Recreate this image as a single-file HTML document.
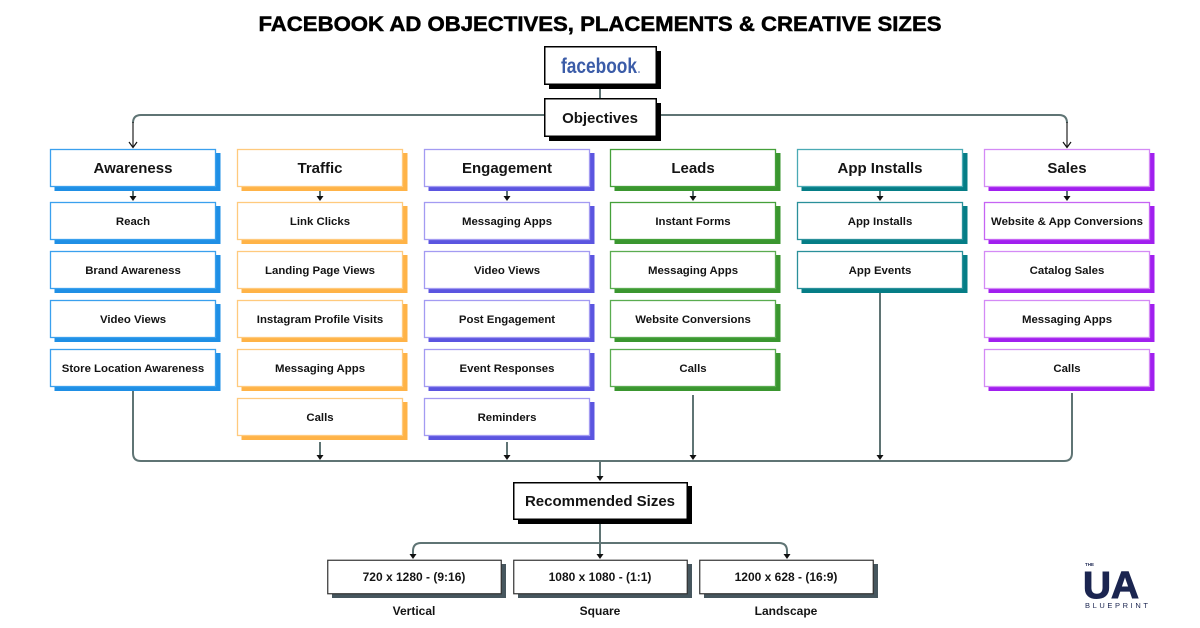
<!DOCTYPE html>
<html><head><meta charset="utf-8"><style>
html,body{margin:0;padding:0;background:#fff;}
svg{display:block;}
text{font-family:"Liberation Sans",Arial,sans-serif;font-weight:bold;fill:#141414;}
.h{font-size:15px;text-anchor:middle;}
.s{font-size:11.4px;text-anchor:middle;}
.ln{stroke:#5f7474;stroke-width:2;fill:none;}
</style></head><body>
<svg width="1200" height="628" viewBox="0 0 1200 628" xmlns="http://www.w3.org/2000/svg">
<rect width="1200" height="628" fill="#fff"/>
<text x="600" y="31" font-size="21" text-anchor="middle" textLength="683" lengthAdjust="spacingAndGlyphs" style="fill:#000;stroke:#000;stroke-width:0.5">FACEBOOK AD OBJECTIVES, PLACEMENTS &amp; CREATIVE SIZES</text>

<!-- connectors top -->
<line class="ln" x1="600" y1="86" x2="600" y2="98"/>
<path class="ln" d="M545 115 H141 Q133 115 133 123"/>
<path class="ln" d="M655 115 H1059 Q1067 115 1067 123"/>
<line x1="133" y1="122" x2="133" y2="147" stroke="#222" stroke-width="1.2"/>
<line x1="1067" y1="122" x2="1067" y2="147" stroke="#222" stroke-width="1.2"/>
<path d="M129 142 L133 147.5 L137 142" stroke="#111" stroke-width="1.2" fill="none"/>
<path d="M1063 142 L1067 147.5 L1071 142" stroke="#111" stroke-width="1.2" fill="none"/>

<!-- facebook box -->
<rect x="549" y="51" width="112" height="38" fill="#000"/>
<rect x="544.75" y="46.75" width="111.5" height="37.5" fill="#fff" stroke="#000" stroke-width="1.5"/>
<text x="599" y="73" font-size="21" text-anchor="middle" textLength="76" lengthAdjust="spacingAndGlyphs" style="fill:#3b5ca8">facebook</text>
<circle cx="639" cy="72" r="0.8" fill="#3b5ca8"/>

<!-- objectives box -->
<rect x="549" y="103" width="112" height="38" fill="#000"/>
<rect x="544.75" y="98.75" width="111.5" height="37.5" fill="#fff" stroke="#000" stroke-width="1.5"/>
<text class="h" x="600" y="123">Objectives</text>

<!-- bottom connectors -->
<path class="ln" d="M133 391 V453 Q133 461 141 461 H1064 Q1072 461 1072 453 V393"/>
<line class="ln" x1="320" y1="442" x2="320" y2="456"/>
<line class="ln" x1="507" y1="442" x2="507" y2="456"/>
<line class="ln" x1="693" y1="395" x2="693" y2="456"/>
<line class="ln" x1="880" y1="293" x2="880" y2="456"/>
<path d="M316.5 455 L323.5 455 L320 460 Z" fill="#111"/>
<path d="M503.5 455 L510.5 455 L507 460 Z" fill="#111"/>
<path d="M689.5 455 L696.5 455 L693 460 Z" fill="#111"/>
<path d="M876.5 455 L883.5 455 L880 460 Z" fill="#111"/>
<line class="ln" x1="600" y1="461" x2="600" y2="477"/>
<path d="M596.5 476 L603.5 476 L600 481 Z" fill="#111"/>

<!-- header->sub arrows -->
<g>
<line class="ln" x1="133" y1="190" x2="133" y2="197"/><path d="M129.5 196 L136.5 196 L133 201 Z" fill="#111"/>
<line class="ln" x1="320" y1="190" x2="320" y2="197"/><path d="M316.5 196 L323.5 196 L320 201 Z" fill="#111"/>
<line class="ln" x1="507" y1="190" x2="507" y2="197"/><path d="M503.5 196 L510.5 196 L507 201 Z" fill="#111"/>
<line class="ln" x1="693" y1="190" x2="693" y2="197"/><path d="M689.5 196 L696.5 196 L693 201 Z" fill="#111"/>
<line class="ln" x1="880" y1="190" x2="880" y2="197"/><path d="M876.5 196 L883.5 196 L880 201 Z" fill="#111"/>
<line class="ln" x1="1067" y1="190" x2="1067" y2="197"/><path d="M1063.5 196 L1070.5 196 L1067 201 Z" fill="#111"/>
</g>

<!-- Awareness column -->
<g>
<rect x="54.5" y="153" width="166" height="38" fill="#1f8fe5"/>
<rect x="50.5" y="149.5" width="165" height="37" fill="#fff" stroke="#3aa0ee" stroke-width="1.3"/>
<text class="h" x="133" y="173">Awareness</text>
<rect x="54.5" y="206" width="166" height="38" fill="#1f8fe5"/>
<rect x="50.5" y="202.5" width="165" height="37" fill="#fff" stroke="#3aa0ee" stroke-width="1.3"/>
<text class="s" x="133" y="225">Reach</text>
<rect x="54.5" y="255" width="166" height="38" fill="#1f8fe5"/>
<rect x="50.5" y="251.5" width="165" height="37" fill="#fff" stroke="#3aa0ee" stroke-width="1.3"/>
<text class="s" x="133" y="274">Brand Awareness</text>
<rect x="54.5" y="304" width="166" height="38" fill="#1f8fe5"/>
<rect x="50.5" y="300.5" width="165" height="37" fill="#fff" stroke="#3aa0ee" stroke-width="1.3"/>
<text class="s" x="133" y="323">Video Views</text>
<rect x="54.5" y="353" width="166" height="38" fill="#1f8fe5"/>
<rect x="50.5" y="349.5" width="165" height="37" fill="#fff" stroke="#3aa0ee" stroke-width="1.3"/>
<text class="s" x="133" y="372">Store Location Awareness</text>
</g>

<!-- Traffic column -->
<g>
<rect x="241.5" y="153" width="166" height="38" fill="#ffb347"/>
<rect x="237.5" y="149.5" width="165" height="37" fill="#fff" stroke="#ffca7d" stroke-width="1.3"/>
<text class="h" x="320" y="173">Traffic</text>
<rect x="241.5" y="206" width="166" height="38" fill="#ffb347"/>
<rect x="237.5" y="202.5" width="165" height="37" fill="#fff" stroke="#ffca7d" stroke-width="1.3"/>
<text class="s" x="320" y="225">Link Clicks</text>
<rect x="241.5" y="255" width="166" height="38" fill="#ffb347"/>
<rect x="237.5" y="251.5" width="165" height="37" fill="#fff" stroke="#ffca7d" stroke-width="1.3"/>
<text class="s" x="320" y="274">Landing Page Views</text>
<rect x="241.5" y="304" width="166" height="38" fill="#ffb347"/>
<rect x="237.5" y="300.5" width="165" height="37" fill="#fff" stroke="#ffca7d" stroke-width="1.3"/>
<text class="s" x="320" y="323">Instagram Profile Visits</text>
<rect x="241.5" y="353" width="166" height="38" fill="#ffb347"/>
<rect x="237.5" y="349.5" width="165" height="37" fill="#fff" stroke="#ffca7d" stroke-width="1.3"/>
<text class="s" x="320" y="372">Messaging Apps</text>
<rect x="241.5" y="402" width="166" height="38" fill="#ffb347"/>
<rect x="237.5" y="398.5" width="165" height="37" fill="#fff" stroke="#ffca7d" stroke-width="1.3"/>
<text class="s" x="320" y="421">Calls</text>
</g>

<!-- Engagement column -->
<g>
<rect x="428.5" y="153" width="166" height="38" fill="#5b55e0"/>
<rect x="424.5" y="149.5" width="165" height="37" fill="#fff" stroke="#a39bf2" stroke-width="1.3"/>
<text class="h" x="507" y="173">Engagement</text>
<rect x="428.5" y="206" width="166" height="38" fill="#5b55e0"/>
<rect x="424.5" y="202.5" width="165" height="37" fill="#fff" stroke="#a39bf2" stroke-width="1.3"/>
<text class="s" x="507" y="225">Messaging Apps</text>
<rect x="428.5" y="255" width="166" height="38" fill="#5b55e0"/>
<rect x="424.5" y="251.5" width="165" height="37" fill="#fff" stroke="#a39bf2" stroke-width="1.3"/>
<text class="s" x="507" y="274">Video Views</text>
<rect x="428.5" y="304" width="166" height="38" fill="#5b55e0"/>
<rect x="424.5" y="300.5" width="165" height="37" fill="#fff" stroke="#a39bf2" stroke-width="1.3"/>
<text class="s" x="507" y="323">Post Engagement</text>
<rect x="428.5" y="353" width="166" height="38" fill="#5b55e0"/>
<rect x="424.5" y="349.5" width="165" height="37" fill="#fff" stroke="#a39bf2" stroke-width="1.3"/>
<text class="s" x="507" y="372">Event Responses</text>
<rect x="428.5" y="402" width="166" height="38" fill="#5b55e0"/>
<rect x="424.5" y="398.5" width="165" height="37" fill="#fff" stroke="#a39bf2" stroke-width="1.3"/>
<text class="s" x="507" y="421">Reminders</text>
</g>

<!-- Leads column -->
<g>
<rect x="614.5" y="153" width="166" height="38" fill="#3a962f"/>
<rect x="610.5" y="149.5" width="165" height="37" fill="#fff" stroke="#45a03a" stroke-width="1.3"/>
<text class="h" x="693" y="173">Leads</text>
<rect x="614.5" y="206" width="166" height="38" fill="#3a962f"/>
<rect x="610.5" y="202.5" width="165" height="37" fill="#fff" stroke="#45a03a" stroke-width="1.3"/>
<text class="s" x="693" y="225">Instant Forms</text>
<rect x="614.5" y="255" width="166" height="38" fill="#3a962f"/>
<rect x="610.5" y="251.5" width="165" height="37" fill="#fff" stroke="#5aac50" stroke-width="1.3"/>
<text class="s" x="693" y="274">Messaging Apps</text>
<rect x="614.5" y="304" width="166" height="38" fill="#3a962f"/>
<rect x="610.5" y="300.5" width="165" height="37" fill="#fff" stroke="#5aac50" stroke-width="1.3"/>
<text class="s" x="693" y="323">Website Conversions</text>
<rect x="614.5" y="353" width="166" height="38" fill="#3a962f"/>
<rect x="610.5" y="349.5" width="165" height="37" fill="#fff" stroke="#5aac50" stroke-width="1.3"/>
<text class="s" x="693" y="372">Calls</text>
</g>

<!-- App Installs column -->
<g>
<rect x="801.5" y="153" width="166" height="38" fill="#057d86"/>
<rect x="797.5" y="149.5" width="165" height="37" fill="#fff" stroke="#4aaab4" stroke-width="1.3"/>
<text class="h" x="880" y="173">App Installs</text>
<rect x="801.5" y="206" width="166" height="38" fill="#057d86"/>
<rect x="797.5" y="202.5" width="165" height="37" fill="#fff" stroke="#2a909a" stroke-width="1.3"/>
<text class="s" x="880" y="225">App Installs</text>
<rect x="801.5" y="255" width="166" height="38" fill="#057d86"/>
<rect x="797.5" y="251.5" width="165" height="37" fill="#fff" stroke="#2a909a" stroke-width="1.3"/>
<text class="s" x="880" y="274">App Events</text>
</g>

<!-- Sales column -->
<g>
<rect x="988.5" y="153" width="166" height="38" fill="#a11fef"/>
<rect x="984.5" y="149.5" width="165" height="37" fill="#fff" stroke="#d48af5" stroke-width="1.3"/>
<text class="h" x="1067" y="173">Sales</text>
<rect x="988.5" y="206" width="166" height="38" fill="#a11fef"/>
<rect x="984.5" y="202.5" width="165" height="37" fill="#fff" stroke="#c664f3" stroke-width="1.3"/>
<text class="s" x="1067" y="225">Website &amp; App Conversions</text>
<rect x="988.5" y="255" width="166" height="38" fill="#a11fef"/>
<rect x="984.5" y="251.5" width="165" height="37" fill="#fff" stroke="#d48af5" stroke-width="1.3"/>
<text class="s" x="1067" y="274">Catalog Sales</text>
<rect x="988.5" y="304" width="166" height="38" fill="#a11fef"/>
<rect x="984.5" y="300.5" width="165" height="37" fill="#fff" stroke="#d48af5" stroke-width="1.3"/>
<text class="s" x="1067" y="323">Messaging Apps</text>
<rect x="988.5" y="353" width="166" height="38" fill="#a11fef"/>
<rect x="984.5" y="349.5" width="165" height="37" fill="#fff" stroke="#d48af5" stroke-width="1.3"/>
<text class="s" x="1067" y="372">Calls</text>
</g>

<!-- Recommended sizes -->
<rect x="518" y="486" width="174" height="38" fill="#000"/>
<rect x="513.75" y="482.75" width="173.5" height="36.5" fill="#fff" stroke="#000" stroke-width="1.5"/>
<text class="h" x="600" y="506">Recommended Sizes</text>

<line class="ln" x1="600" y1="524" x2="600" y2="555"/>
<path class="ln" d="M413 555 V551 Q413 543 421 543 H779 Q787 543 787 551 V555"/>
<path d="M596.5 554 L603.5 554 L600 559 Z" fill="#111"/>
<path d="M409.5 554 L416.5 554 L413 559 Z" fill="#111"/>
<path d="M783.5 554 L790.5 554 L787 559 Z" fill="#111"/>

<rect x="332" y="564" width="174" height="34" fill="#46565e"/>
<rect x="327.75" y="560.25" width="173.5" height="33.5" fill="#fff" stroke="#333" stroke-width="1.2"/>
<text class="s" x="414" y="581" style="font-size:12px">720 x 1280 - (9:16)</text>
<rect x="518" y="564" width="174" height="34" fill="#46565e"/>
<rect x="513.75" y="560.25" width="173.5" height="33.5" fill="#fff" stroke="#333" stroke-width="1.2"/>
<text class="s" x="600" y="581" style="font-size:12px">1080 x 1080 - (1:1)</text>
<rect x="704" y="564" width="174" height="34" fill="#46565e"/>
<rect x="699.75" y="560.25" width="173.5" height="33.5" fill="#fff" stroke="#333" stroke-width="1.2"/>
<text class="s" x="786" y="581" style="font-size:12px">1200 x 628 - (16:9)</text>

<text class="s" x="414" y="615" style="font-size:12px">Vertical</text>
<text class="s" x="600" y="615" style="font-size:12px">Square</text>
<text class="s" x="786" y="615" style="font-size:12px">Landscape</text>

<!-- logo -->
<text x="1085" y="566" font-size="4.5" style="fill:#1b2550" textLength="9" lengthAdjust="spacingAndGlyphs">THE</text>
<text x="1083" y="598" font-size="38" style="fill:#1b2550;stroke:#1b2550;stroke-width:1" textLength="56" lengthAdjust="spacingAndGlyphs">UA</text>
<text x="1085" y="608" font-size="7.5" style="fill:#1b2550;font-weight:normal" textLength="63" lengthAdjust="spacing">BLUEPRINT</text>
</svg>
</body></html>
